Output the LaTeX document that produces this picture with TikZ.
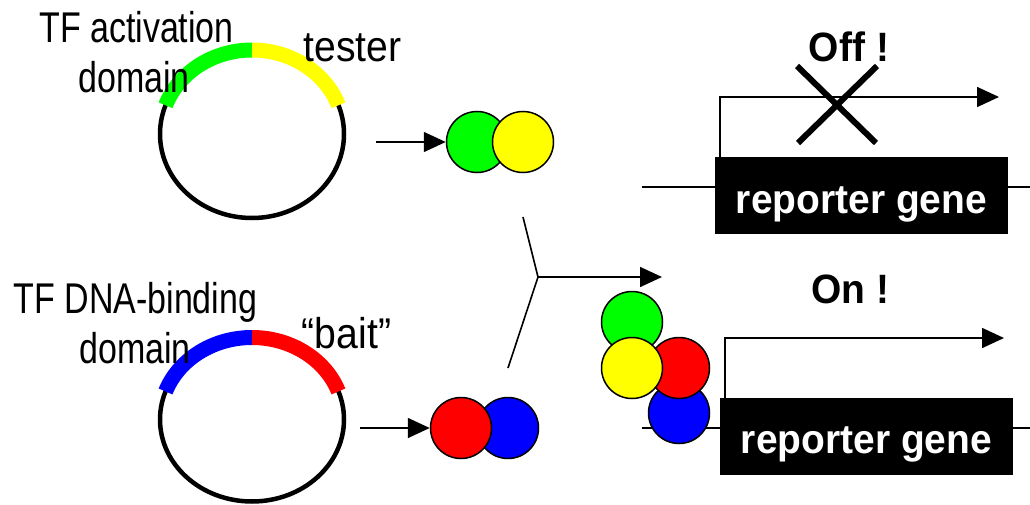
\documentclass[tikz,border=0pt]{standalone}
\usepackage{fontspec}
\setmainfont{Liberation Sans}
\newfontfamily\regf[FakeStretch=0.79]{Liberation Sans}
\newfontfamily\regw[FakeStretch=0.91]{Liberation Sans}
\newfontfamily\bldf[FakeStretch=0.95]{Liberation Sans}
\usetikzlibrary{arrows.meta}
\definecolor{pgreen}{RGB}{0,255,0}
\definecolor{pyellow}{RGB}{255,255,0}
\definecolor{pred}{RGB}{255,0,0}
\definecolor{pblue}{RGB}{0,0,255}
\begin{document}
\begin{tikzpicture}[x=1pt,y=-1pt,
  lbl/.style={font=\regf\fontsize{43}{50}\selectfont, inner sep=0pt, anchor=base},
  lblw/.style={font=\regw\fontsize{43}{50}\selectfont, inner sep=0pt, anchor=base},
  hdr/.style={font=\bldf\bfseries\fontsize{41}{48}\selectfont, inner sep=0pt, anchor=base},
  prot/.style={circle, draw=black, line width=1.5pt, minimum size=61pt, inner sep=0pt},
  conn/.style={line width=1.6pt, -{Triangle[length=22pt,width=20pt]}},
  plain/.style={line width=1.6pt},
  genebox/.style={fill=black, text=white, font=\bldf\bfseries\fontsize{41}{48}\selectfont,
     inner sep=0pt, minimum width=293pt, minimum height=77pt, text height=35pt, text depth=0pt},
  plasmid/.style={line width=4.5pt},
  band/.style={line width=15pt, line cap=butt},
  cross/.style={line width=6pt}]
\useasboundingbox (0,0) rectangle (1030,505);

% ---------- top plasmid ----------
\draw[plasmid] (252,134) ellipse [x radius=92, y radius=84];
\draw[band, pgreen] ([shift={(252,134)}]200:92 and 84) arc [start angle=200, end angle=270, x radius=92, y radius=84];
\draw[band, pyellow] ([shift={(252,134)}]270:92 and 84) arc [start angle=270, end angle=340, x radius=92, y radius=84];
\node[lbl] (tfa1) at (136.5,43) {TF activation};
\node[lbl] (tfa2) at (134,93) {domain};
\node[lblw] (tester) at (352.5,62) {tester};

% ---------- bottom plasmid ----------
\draw[plasmid] (252,419.5) ellipse [x radius=92, y radius=82];
\draw[band, pblue] ([shift={(252,419.5)}]200:92 and 82) arc [start angle=200, end angle=270, x radius=92, y radius=82];
\draw[band, pred] ([shift={(252,419.5)}]270:92 and 82) arc [start angle=270, end angle=340, x radius=92, y radius=82];
\node[lbl] (tfd1) at (135.5,313) {TF DNA-binding};
\node[lbl] (tfd2) at (135,363) {domain};
\node[lblw] (bait) at (346.5,348) {“bait”};

% ---------- protein pairs ----------
\node[prot, fill=pgreen] (g1) at (477,142) {};
\node[prot, fill=pyellow] (y1) at (523,142) {};
\node[prot, fill=pblue] (b2) at (508,428) {};
\node[prot, fill=pred] (r2) at (461,428) {};
\coordinate (a1) at (376,142);
\coordinate (a2) at (360,428);
\draw[conn] (a1) -- (g1);
\draw[conn] (a2) -- (r2);

% ---------- joining arrow ----------
\coordinate (ya) at (523,217);
\coordinate (yb) at (508,368);
\coordinate (yj) at (538,277);
\coordinate (ye) at (662,277);
\draw[plain] (ya) -- (yj) -- (yb);
\draw[conn] (yj) -- (ye);

% ---------- top gene (Off) ----------
\coordinate (l1a) at (642,187);
\coordinate (l1b) at (1030,187);
\draw[plain] (l1a) -- (l1b);
\node[genebox] (rg1) at (861.5,195.5) {reporter gene};
\coordinate (p1a) at (720,157);
\coordinate (p1b) at (720,97);
\coordinate (p1c) at (999,97);
\draw[conn] (p1a) -- (p1b) -- (p1c);
\coordinate (x1) at (797,66);
\coordinate (x2) at (876,143);
\coordinate (x3) at (877,66);
\coordinate (x4) at (798,143);
\draw[cross] (x1) -- (x2);
\draw[cross] (x3) -- (x4);
\node[hdr] (off) at (849,62) {Off !};

% ---------- bottom gene (On) ----------
\coordinate (l2a) at (642,428);
\coordinate (l2b) at (1030,428);
\draw[plain] (l2a) -- (l2b);
\node[prot, fill=pblue] (b3) at (679,413) {};
\node[prot, fill=pred] (r3) at (679,368) {};
\node[prot, fill=pgreen] (g3) at (632,322) {};
\node[prot, fill=pyellow] (y3) at (632,368) {};
\node[genebox] (rg2) at (866.5,436) {reporter gene};
\coordinate (p2a) at (725,398);
\coordinate (p2b) at (725,338);
\coordinate (p2c) at (1004,338);
\draw[conn] (p2a) -- (p2b) -- (p2c);
\node[hdr] (on) at (850.5,303) {On !};
\end{tikzpicture}
\end{document}
